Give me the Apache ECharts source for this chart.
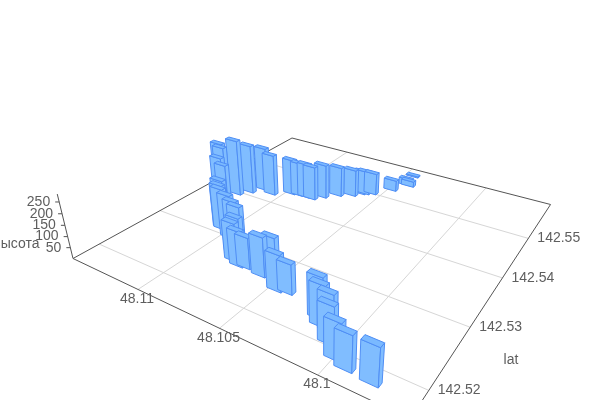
<!DOCTYPE html><html><head><meta charset="utf-8"><style>html,body{margin:0;background:#fff}#c{width:600px;height:400px}</style>
<script src="https://cdn.jsdelivr.net/npm/echarts@6/dist/echarts.min.js"></script></head><body><div id="c"></div>
<script>
const lonValues=[48.09814,48.09935,48.09999,48.10072,48.10113,48.10161,48.10197,48.10415,48.10468,48.10558,48.10603,48.10706,48.10746,48.10826,48.10798,48.10799,48.11343,48.11316,48.11296,48.11260,48.11060,48.11062,48.11053,48.10962,48.10920,48.10876,48.11248,48.11201,48.11149,48.11074,48.10977,48.10926,48.10880,48.10838,48.10795,48.10731,48.10660,48.10624,48.10603,48.10567,48.10487,48.10440,48.10421,48.10452];
const latValues=[142.51819,142.51842,142.51902,142.52054,142.52201,142.52225,142.52314,142.52487,142.52456,142.52650,142.52580,142.52614,142.52594,142.52723,142.52647,142.52721,142.53900,142.53866,142.53751,142.53735,142.53156,142.53138,142.53122,142.53012,142.52992,142.52948,142.53970,142.54117,142.54285,142.54236,142.54396,142.54416,142.54424,142.54426,142.54553,142.54713,142.54822,142.54937,142.54968,142.55022,142.55273,142.55537,142.55527,142.55840];
const heightValues=[154,147,154,158,158,172,176,130,159,171,174,139,157,134,171,181,245,235,203,176,222,202,190,197,181,176,269,236,212,198,172,163,166,162,163,143,130,113,113,105,53,32,27,6];
const lonTicks=[48.1,48.105,48.11];
const latTicks=[142.52,142.53,142.54,142.55];
const heightTicks=[50,100,150,200,250];

const lonMin=48.09609,lonMax=48.11471,latMin=142.51624,latMax=142.5605,heightMax=283;
const barLon=0.00041,barLat=0.00036;
// perspective of the floor (unit square to screen) and of the vertical direction
const H={a:216.3,b:354.4,c:73,d:37.1,e:-56.5,f:258.5,g:-0.2945,h:0.4637},Vx=325,Vy=1290,qz=-0.0002078;
const W=600,Ht=400;
function project(api,lon,lat,z){
  const p=api.coord([lon,lat]);
  const s=p[0]/W,t=(Ht-p[1])/Ht,q=qz*z;
  const w=H.g*s+H.h*t+1+q;
  return [(H.a*s+H.b*t+H.c+q*Vx)/w,(H.d*s+H.e*t+H.f+q*Vy)/w];
}
const depth=(lon,lat)=>H.g*(lonMax-lon)/(lonMax-lonMin)+H.h*(lat-latMin)/(latMax-latMin);
const bars=lonValues.map((v,i)=>[v,latValues[i],heightValues[i]]).sort((p,r)=>depth(r[0],r[1])-depth(p[0],p[1]));
const barStyle={fill:'#80bdff',stroke:'#4f8ef5',lineWidth:1,lineJoin:'round'};
const topStyle={fill:'#7ab9ff',stroke:'#4f8ef5',lineWidth:1,lineJoin:'round'};
const axisC='#555',gridC='#d6d6d6',textC='#5e5e5e',font='14px "Liberation Sans",Arial,sans-serif';
const line=(p,r,c)=>({type:'line',shape:{x1:p[0],y1:p[1],x2:r[0],y2:r[1]},style:{stroke:c,lineWidth:1,fill:null},silent:true});
const label=(text,x,y,align)=>({type:'text',style:{text,x,y,align,verticalAlign:'middle',font,fill:textC},silent:true});
function renderFrame(params,api){
  const kids=[];
  for(const v of lonTicks) kids.push(line(project(api,v,latMin,0),project(api,v,latMax,0),gridC));
  for(const v of latTicks) kids.push(line(project(api,lonMin,v,0),project(api,lonMax,v,0),gridC));
  const L=project(api,lonMax,latMin,0),F=project(api,lonMin,latMin,0),R=project(api,lonMin,latMax,0),B=project(api,lonMax,latMax,0);
  kids.push(line(L,F,axisC),line(F,R,axisC),line(R,B,axisC),line(B,L,axisC));
  kids.push(line(L,project(api,lonMax,latMin,heightMax),axisC));
  for(const v of heightTicks){
    const p=project(api,lonMax,latMin,v);
    kids.push(line(p,[p[0]-4,p[1]],axisC),label(String(v),p[0]-9,p[1],'right'));
  }
  for(const v of lonTicks){const p=project(api,v,latMin,0);kids.push(label(String(v),p[0]-1,p[1]+9.5,'center'));}
  for(const v of latTicks){const p=project(api,lonMin,v,0);kids.push(label(String(v),p[0]+9,p[1],'left'));}
  kids.push(label('lat',511,360,'center'),label('высота',39.5,244,'right'));
  return {type:'group',children:kids};
}
function poly(pts,style){return {type:'polygon',shape:{points:pts},style,silent:true};}
function renderBar(params,api){
  const lon=api.value(0),lat=api.value(1),z=api.value(2);
  const c=(i,j,zz)=>project(api,lon+i*barLon,lat+j*barLat,zz);
  const left=[c(1,-1,0),c(-1,-1,0),c(-1,-1,z),c(1,-1,z)];
  const right=[c(-1,-1,0),c(-1,1,0),c(-1,1,z),c(-1,-1,z)];
  const top=[c(1,-1,z),c(-1,-1,z),c(-1,1,z),c(1,1,z)];
  return {type:'group',children:[poly(left,barStyle),poly(right,barStyle),poly(top,topStyle)]};
}
const chart=echarts.init(document.getElementById('c'),null,{renderer:'canvas'});
chart.setOption({
  animation:false,backgroundColor:'#fff',
  grid:{left:0,top:0,width:W,height:Ht},
  xAxis:{type:'value',min:lonMin,max:lonMax,inverse:true,show:false},
  yAxis:{type:'value',min:latMin,max:latMax,show:false,scale:true},
  series:[
    {type:'custom',coordinateSystem:'cartesian2d',clip:false,silent:true,renderItem:renderFrame,data:[[lonMin,latMin,0]],z:1},
    {type:'custom',coordinateSystem:'cartesian2d',clip:false,silent:true,renderItem:renderBar,encode:{x:0,y:1},data:bars,z:2,progressive:0}
  ]
});
</script></body></html>
